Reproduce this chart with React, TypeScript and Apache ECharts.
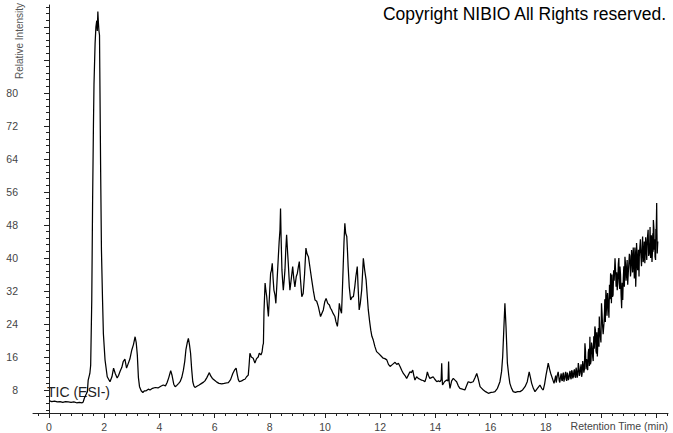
import React, { useEffect, useRef } from "react";
import * as echarts from "echarts";

// [retention time (min), relative intensity]
const baselineRegion: [number, number][] = [
  [0.0, 5.4], [0.1, 5.2], [0.2, 5.3], [0.3, 5.1], [0.4, 5.2], [0.5, 5.0], [0.6, 5.2], [0.7, 5.1],
  [0.8, 5.0], [0.9, 5.1], [1.0, 4.9], [1.1, 5.0], [1.2, 4.9], [1.24, 5.1],
];

const firstPeakRegion: [number, number][] = [
  [1.28, 6.0], [1.35, 7.0], [1.39, 7.6], [1.42, 10.4], [1.48, 12], [1.51, 14], [1.55, 30], [1.58, 54],
  [1.61, 72], [1.63, 82], [1.67, 92], [1.70, 96], [1.73, 97.5], [1.75, 95], [1.77, 99.7], [1.79, 97],
  [1.81, 95], [1.83, 94], [1.84, 86], [1.87, 62], [1.90, 42], [1.94, 29.8], [1.97, 21.7], [2.03, 15.3],
  [2.11, 11.2], [2.21, 10], [2.28, 11.2], [2.34, 13.3], [2.40, 12], [2.47, 10.9], [2.52, 11.5],
  [2.58, 12.6], [2.64, 13.5], [2.69, 14.9], [2.75, 15.5], [2.81, 13.3], [2.86, 14.2], [2.93, 15.5],
  [3.0, 17.7], [3.06, 19], [3.12, 20.9], [3.16, 19.5], [3.20, 16.5], [3.24, 11], [3.28, 8.8],
  [3.34, 7.8], [3.40, 7.4], [3.46, 7.8],
];

const smallPeaksRegion: [number, number][] = [
  [3.52, 7.8], [3.60, 8.2], [3.66, 8.0], [3.75, 8.4], [3.85, 8.6], [3.95, 8.5], [4.05, 8.9], [4.14, 9.2],
  [4.22, 9.0], [4.28, 9.8], [4.34, 11], [4.41, 12.7], [4.46, 11.5], [4.52, 9.4], [4.57, 8.8], [4.63, 9.1],
  [4.70, 9.6], [4.75, 10], [4.81, 11], [4.87, 12.8], [4.92, 15], [4.96, 17.7], [5.01, 19.5], [5.05, 20.5],
  [5.09, 19], [5.13, 16.9], [5.17, 13], [5.21, 10], [5.25, 9.0], [5.29, 8.6], [5.36, 8.9], [5.44, 9.2],
  [5.53, 9.6], [5.60, 9.9], [5.65, 10.2], [5.72, 11], [5.78, 11.8], [5.81, 12.2], [5.86, 11.4],
  [5.92, 10.8], [6.01, 10.3], [6.08, 9.9], [6.16, 9.6], [6.26, 9.5], [6.35, 9.6], [6.43, 9.7],
  [6.50, 9.8], [6.58, 10.5], [6.66, 12], [6.72, 12.8], [6.78, 13.3], [6.82, 11.8], [6.86, 10.5],
  [6.90, 10], [6.98, 10.2], [7.05, 10.5], [7.10, 10.6], [7.16, 11.2], [7.22, 11.6], [7.25, 14],
  [7.28, 16.9], [7.33, 16], [7.40, 15.7], [7.46, 14.5], [7.52, 15.6], [7.58, 16], [7.62, 16.9],
  [7.68, 16.5], [7.72, 17.2],
];

const clusterRegion: [number, number][] = [
  [7.75, 18.8], [7.77, 19.3], [7.79, 27], [7.83, 33.9], [7.86, 32], [7.89, 30.6], [7.92, 28], [7.95, 25.8],
  [7.99, 31], [8.03, 36.3], [8.06, 37], [8.09, 38.7], [8.12, 35], [8.15, 32.2], [8.19, 31], [8.22, 29],
  [8.26, 34], [8.31, 40.3], [8.34, 44], [8.37, 46.8], [8.39, 52], [8.41, 45], [8.44, 37.1], [8.47, 34],
  [8.49, 32.2], [8.52, 34.5], [8.55, 37.1], [8.58, 42], [8.61, 45.6], [8.64, 42], [8.67, 38.7],
  [8.70, 35], [8.73, 32.2], [8.78, 35], [8.83, 37.9], [8.87, 35], [8.91, 33], [8.96, 35.5], [9.0, 36.3],
  [9.04, 38], [9.07, 39.1], [9.11, 35], [9.16, 30.6], [9.21, 31.4], [9.26, 36], [9.31, 42.4], [9.35, 41],
  [9.40, 40.3], [9.46, 37.5], [9.52, 34.7], [9.58, 32], [9.64, 29.8], [9.70, 29.5], [9.76, 28.2],
  [9.80, 27], [9.84, 25.8], [9.89, 26.6], [9.94, 27.4], [9.99, 29.3], [10.04, 30.2], [10.10, 29],
  [10.16, 28.6], [10.20, 27.8], [10.24, 27.4], [10.30, 26.5], [10.36, 25.8], [10.40, 24.5], [10.45, 23.4],
  [10.49, 26], [10.52, 29.0], [10.56, 27.5], [10.60, 26.6], [10.63, 32], [10.66, 37.9], [10.69, 44],
  [10.72, 48.4], [10.75, 46], [10.79, 45.2], [10.82, 41], [10.84, 37.9], [10.88, 33], [10.93, 29.8],
  [10.98, 30.5], [11.03, 30.6], [11.08, 33], [11.12, 35.5], [11.17, 37.9], [11.20, 33], [11.24, 27.4],
  [11.28, 29], [11.33, 32.2], [11.36, 36], [11.39, 39.9], [11.44, 37], [11.49, 34.7], [11.53, 31],
  [11.57, 27.4], [11.62, 24.5], [11.66, 22.5], [11.70, 21], [11.75, 20.1], [11.81, 18.5], [11.87, 17.3],
  [11.95, 16.8], [12.05, 16.1], [12.11, 15.7], [12.17, 15.6], [12.24, 15.3], [12.30, 14.2], [12.36, 13.7],
  [12.45, 14.2], [12.54, 14.7], [12.60, 14.2], [12.66, 14.5], [12.72, 13.7],
];

const lateRegion: [number, number][] = [
  [12.78, 12.8], [12.84, 12.0], [12.90, 11.5], [12.96, 10.8], [13.02, 11.6], [13.08, 12.4], [13.13, 12.2],
  [13.18, 12.8], [13.22, 11.5], [13.26, 10.4], [13.32, 11.2], [13.38, 10.8], [13.44, 10.6], [13.50, 10.4],
  [13.56, 10.3], [13.62, 10.0], [13.67, 11], [13.71, 12.4], [13.75, 11.5], [13.80, 10.8], [13.86, 11.0],
  [13.92, 11.2], [13.98, 10.6], [14.05, 10.0], [14.11, 10.2], [14.17, 10.0], [14.21, 10.5], [14.23, 14.5],
  [14.25, 10.2], [14.26, 9.2], [14.33, 10.0], [14.41, 10.4], [14.46, 10.2], [14.48, 14.9], [14.50, 10.0],
  [14.53, 8.4], [14.59, 10.2], [14.65, 10.8], [14.71, 10.4], [14.77, 10.0], [14.83, 9.0], [14.89, 8.4],
  [14.98, 8.2], [15.07, 8.0], [15.13, 9.0], [15.19, 10.0], [15.28, 9.8], [15.37, 10.0], [15.44, 11.0],
  [15.50, 12.0], [15.55, 10.8], [15.62, 8.8], [15.68, 8.4], [15.74, 8.0], [15.82, 7.6], [15.92, 7.2],
  [16.02, 7.4], [16.10, 7.5], [16.16, 7.6], [16.25, 8.4], [16.34, 10], [16.40, 12.5], [16.44, 16.1],
  [16.49, 24.2], [16.52, 29], [16.56, 23.4], [16.61, 14.5], [16.66, 11.5], [16.70, 9.6], [16.76, 8.4],
  [16.82, 7.6], [16.90, 7.4], [16.98, 7.6], [17.07, 7.6], [17.16, 8.0], [17.25, 8.8], [17.33, 10],
  [17.40, 12.4], [17.44, 11.2], [17.49, 9.6], [17.55, 8.4], [17.61, 7.6], [17.70, 8.4], [17.79, 9.2],
  [17.85, 8.4], [17.91, 8.0], [17.96, 9.5], [18.01, 11.6], [18.05, 13], [18.09, 14.5], [18.14, 13],
  [18.18, 12.0], [18.24, 10.8], [18.30, 9.6],
];

const gradientRegion: [number, number][] = [
  [18.34, 10.8], [18.38, 9.8], [18.42, 11.6], [18.45, 12.4], [18.49, 10.2], [18.53, 11.0], [18.58, 10.4],
  [18.62, 11.8], [18.66, 10.0], [18.70, 11.6], [18.74, 10.6], [18.78, 12.2], [18.82, 10.4], [18.86, 12.0],
  [18.90, 11.0], [18.94, 12.8], [18.98, 10.8], [19.02, 12.6], [19.06, 11.2], [19.10, 13.4], [19.14, 11.0],
  [19.18, 14.5], [19.22, 11.4], [19.26, 13.2], [19.30, 11.2], [19.34, 15.0], [19.38, 12.2], [19.42, 19.3],
  [19.46, 13.0], [19.50, 14.5], [19.54, 17.0], [19.58, 13.8], [19.60, 20.9], [19.64, 15.0], [19.68, 18.5],
  [19.70, 16.1], [19.74, 21.0], [19.78, 23.4], [19.82, 17.5], [19.85, 22.0], [19.87, 16.1], [19.91, 23.0],
  [19.94, 25.8], [19.98, 21.0], [20.02, 29.0], [20.06, 23.5], [20.11, 24.2], [20.14, 30.0], [20.18, 32.2],
  [20.22, 26.0], [20.27, 28.2], [20.31, 33.5], [20.35, 36.3], [20.38, 29.0], [20.42, 30.6], [20.46, 37.0],
  [20.51, 39.9], [20.55, 33.0], [20.59, 32.2], [20.63, 38.5], [20.66, 35.0], [20.69, 37.9], [20.73, 31.0],
  [20.75, 27.8], [20.79, 29.8], [20.83, 38.0], [20.87, 40.3], [20.91, 34.5], [20.95, 39.5], [20.99, 36.3],
  [21.03, 41.0], [21.07, 35.5], [21.11, 41.9], [21.15, 36.5], [21.20, 37.1], [21.23, 42.5], [21.26, 33.0],
  [21.29, 43.6], [21.33, 37.0], [21.36, 42.0], [21.39, 40.3], [21.43, 44.5], [21.47, 38.0], [21.51, 45.2],
  [21.55, 40.0], [21.59, 38.7], [21.62, 45.0], [21.66, 39.5], [21.71, 46.8], [21.75, 41.0], [21.78, 47.5],
  [21.81, 43.6], [21.85, 39.0], [21.88, 46.0], [21.90, 49.2], [21.93, 42.0], [21.96, 40.3], [21.99, 47.0],
  [22.02, 53.3], [22.04, 41.1], [22.06, 44.0],
];

// extra readings between the points above, where the trace is a dense noisy band
const gradientDetail: [number, number][] = [
  [18.36, 11.5], [18.40, 10.6], [18.47, 11.4], [18.51, 9.8], [18.56, 12.0], [18.60, 10.2], [18.64, 12.2],
  [18.68, 10.8], [18.72, 12.4], [18.76, 10.2], [18.80, 11.6], [18.84, 10.8], [18.88, 12.6], [18.92, 10.6],
  [18.96, 12.4], [19.00, 11.2], [19.04, 13.0], [19.08, 11.0], [19.12, 12.6], [19.16, 11.8], [19.20, 13.6],
  [19.24, 12.0], [19.28, 14.2], [19.32, 12.0], [19.36, 14.0], [19.40, 13.0], [19.44, 17.5], [19.48, 15.5],
  [19.52, 12.8], [19.56, 18.0], [19.62, 14.2], [19.66, 19.5], [19.72, 15.0], [19.76, 18.0], [19.80, 22.5],
  [19.84, 16.8], [19.89, 20.0], [19.93, 18.5], [19.96, 22.0], [20.00, 19.5], [20.04, 26.5], [20.08, 21.5],
  [20.13, 27.0], [20.16, 24.5], [20.20, 30.0], [20.24, 31.5], [20.29, 25.5], [20.33, 30.0], [20.37, 33.5],
  [20.40, 36.0], [20.44, 31.0], [20.48, 34.5], [20.53, 37.0], [20.57, 36.5], [20.61, 34.0], [20.65, 40.0],
  [20.68, 32.5], [20.71, 36.0], [20.77, 34.0], [20.81, 35.0], [20.85, 33.0], [20.89, 38.5], [20.93, 36.5],
  [20.97, 33.5], [21.01, 38.5], [21.05, 40.5], [21.09, 37.0], [21.13, 40.0], [21.17, 42.5], [21.21, 35.0],
  [21.25, 40.5], [21.28, 37.5], [21.31, 41.0], [21.35, 39.0], [21.38, 35.5], [21.41, 42.5], [21.45, 40.5],
  [21.49, 42.0], [21.53, 39.0], [21.57, 44.0], [21.61, 41.5], [21.64, 43.0], [21.68, 44.5], [21.73, 40.5],
  [21.77, 44.0], [21.80, 40.0], [21.83, 45.5], [21.87, 42.0], [21.89, 41.5], [21.92, 47.0], [21.95, 44.5],
  [21.98, 39.5], [22.00, 45.0], [22.03, 46.0],
];

const xLabelValues = [0, 2, 4, 6, 8, 10, 12, 14, 16, 18];
const xMajorTicks = [0, 2, 4, 6, 8, 10, 12, 14, 16, 18, 20, 22];
const yLabelValues = [8, 16, 24, 32, 40, 48, 56, 64, 72, 80];
const yMajorTicks = [8, 16, 24, 32, 40, 48, 56, 64, 72, 80, 88, 96];

const X_MIN = -0.58;
const X_MAX = 22.43;
const Y_MIN = 2.42;
const Y_MAX = 101.3;

const xMinorTicks: number[] = [];
for (let i = -1; i <= 56; i++) xMinorTicks.push(Math.round(i * 0.4 * 100) / 100);
const yMinorTicks: number[] = [];
for (let i = 2; i <= 63; i++) yMinorTicks.push(Math.round(i * 1.6 * 100) / 100);

const LABEL_FONT = "'Liberation Sans', Arial, sans-serif";

export default function App() {
  const ref = useRef<HTMLDivElement>(null);

  useEffect(() => {
    if (!ref.current) return;
    const chart = echarts.init(ref.current, null, { renderer: "svg" });
    const data = [
      ...baselineRegion,
      ...firstPeakRegion,
      ...smallPeaksRegion,
      ...clusterRegion,
      ...lateRegion,
      ...gradientRegion,
      ...gradientDetail,
    ].sort((a, b) => a[0] - b[0]);
    const axisLineStyle = { color: "#222", width: 1 };
    chart.setOption({
      animation: false,
      backgroundColor: "#fff",
      grid: { left: 33, top: 5, right: 5, bottom: 20, containLabel: false },
      xAxis: [
        {
          type: "value",
          min: X_MIN,
          max: X_MAX,
          position: "bottom",
          axisLine: { show: true, lineStyle: axisLineStyle },
          axisTick: { show: true, length: 5, customValues: xMajorTicks, lineStyle: axisLineStyle },
          axisLabel: {
            show: true,
            customValues: xLabelValues,
            margin: 8,
            color: "#444",
            fontSize: 10.5,
            fontFamily: LABEL_FONT,
          },
          splitLine: { show: false },
        },
        {
          type: "value",
          min: X_MIN,
          max: X_MAX,
          position: "bottom",
          offset: 0,
          axisLine: { show: false },
          axisTick: { show: true, length: 3, customValues: xMinorTicks, lineStyle: axisLineStyle },
          axisLabel: { show: false },
          splitLine: { show: false },
        },
      ],
      yAxis: [
        {
          type: "value",
          min: Y_MIN,
          max: Y_MAX,
          position: "left",
          axisLine: { show: true, lineStyle: axisLineStyle },
          axisTick: { show: true, length: 5, customValues: yMajorTicks, lineStyle: axisLineStyle },
          axisLabel: {
            show: true,
            customValues: yLabelValues,
            margin: 15,
            color: "#444",
            fontSize: 10.5,
            fontFamily: LABEL_FONT,
          },
          splitLine: { show: false },
        },
        {
          type: "value",
          min: Y_MIN,
          max: Y_MAX,
          position: "left",
          offset: 0,
          axisLine: { show: false },
          axisTick: { show: true, length: 3, customValues: yMinorTicks, lineStyle: axisLineStyle },
          axisLabel: { show: false },
          splitLine: { show: false },
        },
      ],
      series: [
        {
          type: "line",
          xAxisIndex: 0,
          yAxisIndex: 0,
          data,
          showSymbol: false,
          symbol: "none",
          silent: true,
          lineStyle: { color: "#000", width: 1.25 },
        },
      ],
      graphic: [
        {
          type: "text",
          x: 666,
          y: 14,
          style: {
            text: "Copyright NIBIO All Rights reserved.",
            font: `17.5px ${LABEL_FONT}`,
            fill: "#000",
            align: "right",
            verticalAlign: "middle",
          },
        },
        {
          type: "text",
          x: 19,
          y: 41,
          rotation: Math.PI / 2,
          style: {
            text: "Relative Intensity",
            font: `10px ${LABEL_FONT}`,
            fill: "#555",
            align: "center",
            verticalAlign: "middle",
          },
        },
        {
          type: "text",
          x: 47,
          y: 392,
          style: {
            text: "TIC (ESI-)",
            font: `14px ${LABEL_FONT}`,
            fill: "#222",
            align: "left",
            verticalAlign: "middle",
          },
        },
        {
          type: "text",
          x: 668,
          y: 426,
          style: {
            text: "Retention Time (min)",
            font: `10.5px ${LABEL_FONT}`,
            fill: "#444",
            align: "right",
            verticalAlign: "middle",
          },
        },
      ],
    });
    return () => chart.dispose();
  }, []);

  return (
    <div
      ref={ref}
      style={{ position: "absolute", left: 0, top: 0, width: 673, height: 433, background: "#fff" }}
    />
  );
}
